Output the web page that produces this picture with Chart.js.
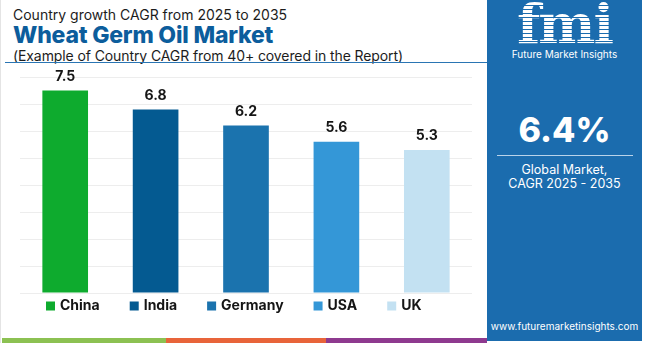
<!DOCTYPE html>
<html lang="en">
<head>
<meta charset="UTF-8">
<title>Wheat Germ Oil Market</title>
<script src="https://cdn.jsdelivr.net/npm/chart.js@4.4.1/dist/chart.umd.min.js"></script>
<style>
	html, body { margin: 0; padding: 0; }
	body {
		width: 650px;
		height: 343px;
		position: relative;
		overflow: hidden;
		background: #fff;
		font-family: 'Inter', 'Noto Sans', sans-serif;
	}
	.frame { position: absolute; left: 0; top: 0; width: 1px; height: 343px; background: #e4e4e4; }
	.head { position: absolute; left: 13px; top: 5px; color: #1c1c1c; }
	.sub1 { font-size: 14px; line-height: 19px; }
	.main { font-size: 23px; font-weight: 800; color: #0c5d9c; line-height: 22px; letter-spacing: -0.2px; }
	.sub2 { font-size: 14px; line-height: 20px; letter-spacing: -0.1px; }
	.rule { position: absolute; left: 5px; top: 62px; width: 482px; height: 1px; background: #2a75b3; }
	.panel {
		position: absolute; left: 487px; top: 0; width: 155px; height: 341px;
		background: #1b6cae; color: #fff; text-align: center;
	}
	.logo {
		position: absolute; left: 0; width: 155px; top: -6px;
		font-family: 'DejaVu Serif', serif; font-weight: bold; font-size: 54px; line-height: 60px;
		letter-spacing: -2px;
		background: repeating-linear-gradient(#fff 0 3px, #1b6cae 3px 4px);
		-webkit-background-clip: text; background-clip: text; color: transparent;
	}
	.brand { position: absolute; left: 0; width: 155px; top: 48px; font-size: 10px; }
	.big { position: absolute; left: 0; width: 155px; top: 110px; font-size: 34px; font-weight: 800; line-height: 40px; }
	.line { position: absolute; left: 10px; width: 136px; top: 155px; height: 1px; background: #b9d3ea; }
	.note { position: absolute; left: 0; width: 155px; top: 163px; font-size: 12.5px; line-height: 14px; }
	.url { position: absolute; left: 0; width: 155px; top: 320px; font-size: 10px; }
	.strip { position: absolute; top: 338px; height: 5px; }
	#chartBox { position: absolute; left: 0; top: 62px; width: 480px; height: 276px; }
</style>
</head>
<body>
	<div class="frame"></div>
	<div class="head">
		<div class="sub1">Country growth CAGR from 2025 to 2035</div>
		<div class="main">Wheat Germ Oil Market</div>
		<div class="sub2">(Example of Country CAGR from 40+ covered in the Report)</div>
	</div>
	<div class="rule"></div>

	<div id="chartBox"><canvas id="myChart"></canvas></div>

	<div class="strip" style="left:2px;width:164px;background:#8cc152;"></div>
	<div class="strip" style="left:166px;width:160px;background:#e8643a;"></div>
	<div class="strip" style="left:326px;width:161px;background:#8e3a8f;"></div>

	<div class="panel">
		<div class="logo">fmi</div>
		<div class="brand">Future Market Insights</div>
		<div class="big">6.4%</div>
		<div class="line"></div>
		<div class="note">Global Market,<br>CAGR 2025 - 2035</div>
		<div class="url">www.futuremarketinsights.com</div>
	</div>

<script>
const countries = ['China', 'India', 'Germany', 'USA', 'UK'];
const cagrValues = [7.5, 6.8, 6.2, 5.6, 5.3];
const barColors = ['#0eab2e', '#045a91', '#1b73ae', '#3497d7', '#c3e1f2'];

// value above each bar
const valueLabels = {
	id: 'valueLabels',
	afterDatasetsDraw(chart) {
		const ctx = chart.ctx;
		const meta = chart.getDatasetMeta(0);
		ctx.save();
		ctx.font = 'bold 14px Inter, sans-serif';
		ctx.fillStyle = '#151515';
		ctx.textAlign = 'center';
		ctx.textBaseline = 'middle';
		meta.data.forEach((bar, i) => {
			ctx.fillText(chart.data.datasets[0].data[i].toFixed(1), bar.x, bar.y - 14);
		});
		ctx.restore();
	},
};

// one legend entry per bar, under the plot
const barLegend = {
	id: 'barLegend',
	afterDraw(chart, args, opts) {
		const ctx = chart.ctx;
		const colors = chart.data.datasets[0].backgroundColor;
		const y = chart.chartArea.bottom + opts.offset;
		ctx.save();
		ctx.font = 'bold 14px Inter, sans-serif';
		ctx.textBaseline = 'middle';
		let x = opts.left;
		chart.data.labels.forEach((label, i) => {
			ctx.fillStyle = colors[i];
			ctx.fillRect(x, y - 4.5, 9, 9);
			ctx.fillStyle = '#151515';
			ctx.fillText(label, x + 14, y);
			x += 14 + ctx.measureText(label).width + opts.gap;
		});
		ctx.restore();
	},
};

const createChart = function () {
	const data = {
		labels: countries,
		datasets: [
			{
				label: 'CAGR 2025-2035',
				data: cagrValues,
				backgroundColor: barColors,
				borderWidth: 0,
				categoryPercentage: 1,
				barPercentage: 0.505,
			},
		],
	};

	const config = {
		type: 'bar',
		data: data,
		options: {
			responsive: true,
			maintainAspectRatio: false,
			animation: false,
			layout: {
				padding: { left: 20, right: 8, top: 15, bottom: 45 },
			},
			scales: {
				x: { display: false },
				y: {
					min: 0,
					max: 8,
					ticks: { display: false, stepSize: 1 },
					border: { display: false },
					grid: { color: '#ededed', drawTicks: false },
				},
			},
			plugins: {
				legend: { display: false },
				tooltip: { enabled: false },
				barLegend: { left: 46, gap: 30, offset: 13 },
			},
		},
		plugins: [valueLabels, barLegend],
	};

	const ctx = document.getElementById('myChart');
	const myChart = new Chart(ctx, config);
};

const init = function () {
	createChart();
};
document.addEventListener('DOMContentLoaded', init);
</script>
</body>
</html>
